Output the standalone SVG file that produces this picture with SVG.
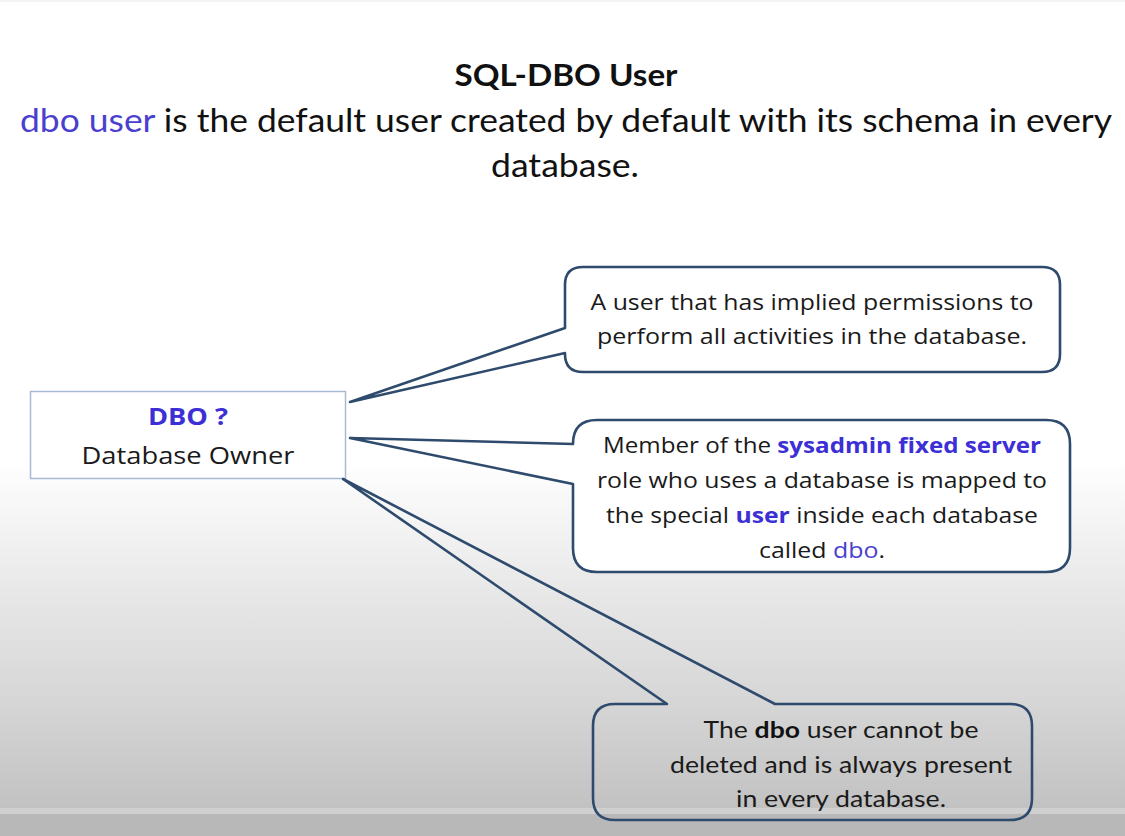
<svg xmlns="http://www.w3.org/2000/svg" width="1125" height="836" viewBox="0 0 1125 836">
  <defs>
    <linearGradient id="bg" x1="0" y1="0" x2="0" y2="836" gradientUnits="userSpaceOnUse">
      <stop offset="0" stop-color="#ffffff"/>
      <stop offset="0.55" stop-color="#ffffff"/>
      <stop offset="0.72" stop-color="#e6e6e6"/>
      <stop offset="0.84" stop-color="#d6d6d6"/>
      <stop offset="0.965" stop-color="#c2c2c2"/>
      <stop offset="1" stop-color="#c0c0c0"/>
    </linearGradient>
    <style>
      .title { font-family: "Lato", "Liberation Sans", sans-serif; fill: #111; }
      .body { font-family: "Open Sans", "Noto Sans", sans-serif; fill: #1a1a1a; }
      .narrow { font-family: "Lato", "Liberation Sans", sans-serif; fill: #1a1a1a; }
      .hl { fill: #3d2fd6; }
      .hl2 { fill: #4a3fcf; }
      .b { font-weight: bold; }
      .callout { stroke: #2e4a6d; stroke-width: 2.6; stroke-linejoin: round; }
    </style>
  </defs>

  <!-- backdrop -->
  <rect width="1125" height="836" fill="url(#bg)"/>
  <rect x="0" y="0" width="1125" height="2" fill="#f3f3f3"/>
  <rect x="0" y="808" width="1125" height="6" fill="#d0d0d0"/>
  <rect x="0" y="814" width="1125" height="22" fill="#b8b8b8"/>

  <!-- heading -->
  <g id="heading">
    <text class="title b" x="566" y="86" font-size="30" text-anchor="middle" textLength="223" lengthAdjust="spacingAndGlyphs">SQL-DBO User</text>
    <text class="title" x="566" y="132" font-size="33" text-anchor="middle" textLength="1092" lengthAdjust="spacingAndGlyphs"><tspan class="hl2">dbo user</tspan> is the default user created by default with its schema in every</text>
    <text class="title" x="565" y="177" font-size="33" text-anchor="middle" textLength="148" lengthAdjust="spacingAndGlyphs">database.</text>
  </g>

  <!-- central node -->
  <g id="dbo-owner">
    <rect x="30.5" y="391.5" width="315" height="87" fill="#ffffff" stroke="#a9bbd4" stroke-width="1.5"/>
    <text class="body b hl" x="188" y="425" font-size="24" text-anchor="middle" textLength="80" lengthAdjust="spacingAndGlyphs">DBO ?</text>
    <text class="body" x="188" y="464" font-size="24" text-anchor="middle" textLength="213" lengthAdjust="spacingAndGlyphs">Database Owner</text>
  </g>

  <!-- callouts, each with its pointer back to the central node -->
  <g id="connectors">
    <g id="callout-permissions">
      <path class="callout" fill="#ffffff" d="M583,267 H1042 Q1060,267 1060,285 V354 Q1060,372 1042,372 H583 Q565,372 565,354 V353 L350,402 L565,328 V285 Q565,267 583,267 Z"/>
      <text class="body" x="812" y="310" font-size="21.5" text-anchor="middle" textLength="443" lengthAdjust="spacingAndGlyphs">A user that has implied permissions to</text>
      <text class="body" x="812" y="344" font-size="21.5" text-anchor="middle" textLength="430" lengthAdjust="spacingAndGlyphs">perform all activities in the database.</text>
    </g>

    <g id="callout-sysadmin">
      <path class="callout" fill="#ffffff" d="M597,420 H1046 Q1070,420 1070,444 V548 Q1070,572 1046,572 H597 Q573,572 573,548 V484 L350,438 L573,444 Q573,420 597,420 Z"/>
      <text class="body" x="822" y="453" font-size="21.5" text-anchor="middle" textLength="438" lengthAdjust="spacingAndGlyphs">Member of the <tspan class="hl b">sysadmin fixed server</tspan></text>
      <text class="body" x="822" y="488" font-size="21.5" text-anchor="middle" textLength="450" lengthAdjust="spacingAndGlyphs">role who uses a database is mapped to</text>
      <text class="body" x="822" y="523" font-size="21.5" text-anchor="middle" textLength="432" lengthAdjust="spacingAndGlyphs">the special <tspan class="hl b">user</tspan> inside each database</text>
      <text class="body" x="822" y="558" font-size="21.5" text-anchor="middle" textLength="126" lengthAdjust="spacingAndGlyphs">called <tspan class="hl2">dbo</tspan>.</text>
    </g>

    <g id="callout-permanent">
      <path class="callout" fill="none" d="M615,704 H667 L343,479 L775,704 H1010 Q1032,704 1032,726 V798 Q1032,820 1010,820 H615 Q593,820 593,798 V726 Q593,704 615,704 Z"/>
      <text class="narrow" x="841" y="738" font-size="23" text-anchor="middle" textLength="275" lengthAdjust="spacingAndGlyphs">The <tspan class="b" fill="#111">dbo</tspan> user cannot be</text>
      <text class="narrow" x="841" y="773" font-size="23" text-anchor="middle" textLength="342" lengthAdjust="spacingAndGlyphs">deleted and is always present</text>
      <text class="narrow" x="841" y="807" font-size="23" text-anchor="middle" textLength="210" lengthAdjust="spacingAndGlyphs">in every database.</text>
    </g>
  </g>
</svg>
